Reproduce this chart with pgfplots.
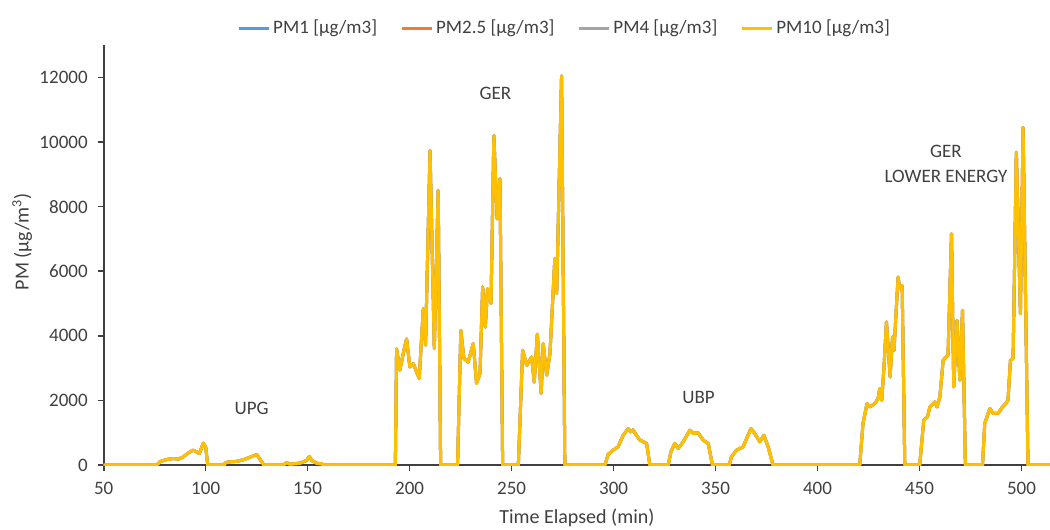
\documentclass[border=0pt]{standalone}
\usepackage{pgfplots}
\pgfplotsset{compat=1.18}
\usepackage{pgfplotstable}
\usepackage{fontspec}
\setmainfont{Carlito}
\definecolor{pmone}{HTML}{5B9BD5}
\definecolor{pmtwo}{HTML}{ED7D31}
\definecolor{pmfour}{HTML}{A5A5A5}
\definecolor{pmten}{HTML}{FFC000}
\definecolor{txt}{HTML}{404040}
\definecolor{axc}{HTML}{404040}
\pgfplotstableread{
t pm
50 0
76 0
77.6 110
80.9 175
84.1 205
86.6 185
89 255
91.5 380
93.9 465
96.9 360
98.8 680
100 555
101 0
109 0
109.5 60
111 100
115.2 115
118.4 165
121.7 245
125 330
126.6 185
128.6 0
138 0
139.7 80
141.3 30
146.2 60
149.5 145
150.8 270
152 145
154.4 60
156.8 40
158.4 0
193 0
193.6 3600
195.2 2940
197.2 3550
198.5 3910
200.1 3040
201.8 3140
204.7 2680
206.7 4840
207.8 3710
210 9730
212.1 3610
214 8500
215.2 0
223.5 0
225.1 4170
226.6 3300
228.7 3190
231.2 3760
232.8 2530
234.5 2830
235.8 5510
237.1 4270
238.2 5460
239.9 5000
241.3 10200
242.9 7620
244.3 8860
245.6 0
253.3 0
255.4 3550
257.4 3090
259.8 3350
261.1 2570
262.6 4050
264.5 2220
265.5 3760
267.2 2780
268.8 3450
271.2 6390
272.1 5310
274.5 12050
276.1 0
295.7 0
297.4 340
299.8 465
302.2 565
304.7 925
307.2 1130
308.3 1030
309.6 1090
311.2 925
312.9 775
316.2 670
317.8 0
326.8 0
328.1 410
330 670
331.7 515
334.1 720
337.4 1080
339 980
341.5 1000
343.9 775
346.4 670
348.5 0
356.7 0
357.8 260
360.3 465
363.5 565
367.3 1130
369.2 980
371.7 720
373.7 925
375.8 565
378.2 0
420.7 0
422.3 1290
424.3 1905
425.6 1800
428.1 1905
429.7 2060
430.5 2370
431.5 2010
432.6 3040
433.8 4430
435.6 2730
436.8 3970
437.5 3550
439.5 5820
440.3 5460
441.5 5560
442.8 0
450.1 0
452.1 1390
453.9 1495
455.1 1800
457.5 1955
458.6 1800
460 2110
461.6 3245
464 3400
465.7 7160
466.8 2420
468.4 4480
469.8 2630
471.1 4790
472.5 0
480.9 0
482 1290
484.5 1750
486.1 1600
488.5 1600
490.7 1800
492.3 1905
493.4 2010
494.6 3245
495.9 3300
497.5 9680
499.5 4690
500.8 10450
503.2 0
514 0
}\pmdata
\begin{document}
\begin{tikzpicture}[font=\fontsize{9.5}{11.4}\selectfont]
\begin{axis}[
  scale only axis,
  width=473pt, height=210pt,
  xmin=50, xmax=514, ymin=0, ymax=13000,
  axis lines=left,
  axis line style={-, axc, line width=0.8pt},
  xtick={50,100,...,500},
  ytick={0,2000,...,12000},
  scaled y ticks=false,
  scaled x ticks=false,
  tick align=outside,
  major tick length=3pt,
  tick style={axc, line width=0.8pt},
  /pgf/number format/assume math mode=true,
  /pgf/number format/1000 sep={},
  ticklabel style={text=txt},
  xticklabel style={yshift=-2pt},
  yticklabel style={xshift=-1.5pt},
  every axis x label/.style={at={(axis description cs:0.5,-0.126)}, anchor=center, font=\fontsize{10}{12}\selectfont, text=txt},
  every axis y label/.style={at={(axis description cs:-0.0863,0.532)}, rotate=90, anchor=center, font=\fontsize{10}{12}\selectfont, text=txt},
  xlabel={Time Elapsed (min)},
  ylabel={PM (µg/m\textsuperscript{3})},
  legend columns=4,
  legend style={at={(axis description cs:0.487,1)}, anchor=center, yshift=8.5pt, draw=none, fill=none,
    /tikz/every odd column/.append style={column sep=0.5pt},
    /tikz/every even column/.append style={column sep=10.5pt},
    nodes={text=txt, inner sep=1pt}},
  legend image code/.code={\draw[#1] (0pt,0pt) -- (15pt,0pt);},
  every axis plot/.append style={line width=1.5pt, line join=round},
]
\addplot[pmone] table[x=t,y=pm] {\pmdata};
\addlegendentry{PM1 [µg/m3]}
\addplot[pmtwo] table[x=t,y=pm] {\pmdata};
\addlegendentry{PM2.5 [µg/m3]}
\addplot[pmfour] table[x=t,y=pm] {\pmdata};
\addlegendentry{PM4 [µg/m3]}
\addplot[pmten] table[x=t,y=pm] {\pmdata};
\addlegendentry{PM10 [µg/m3]}
\node[text=txt] at (axis cs:242.1,11517) {GER};
\node[text=txt] at (axis cs:122.5,1740) {UPG};
\node[text=txt] at (axis cs:341.7,2092) {UBP};
\node[text=txt, align=center, font=\fontsize{9.5}{12.5}\selectfont] at (axis cs:463,9310) {GER\\LOWER ENERGY};
\coordinate (sw) at (rel axis cs:0,0);
\coordinate (ne) at (rel axis cs:1,1);
\end{axis}
\pgfresetboundingbox
\path[use as bounding box] ([xshift=-51.85pt,yshift=-32pt]sw) rectangle ([yshift=22.5pt]ne);
\end{tikzpicture}
\end{document}
